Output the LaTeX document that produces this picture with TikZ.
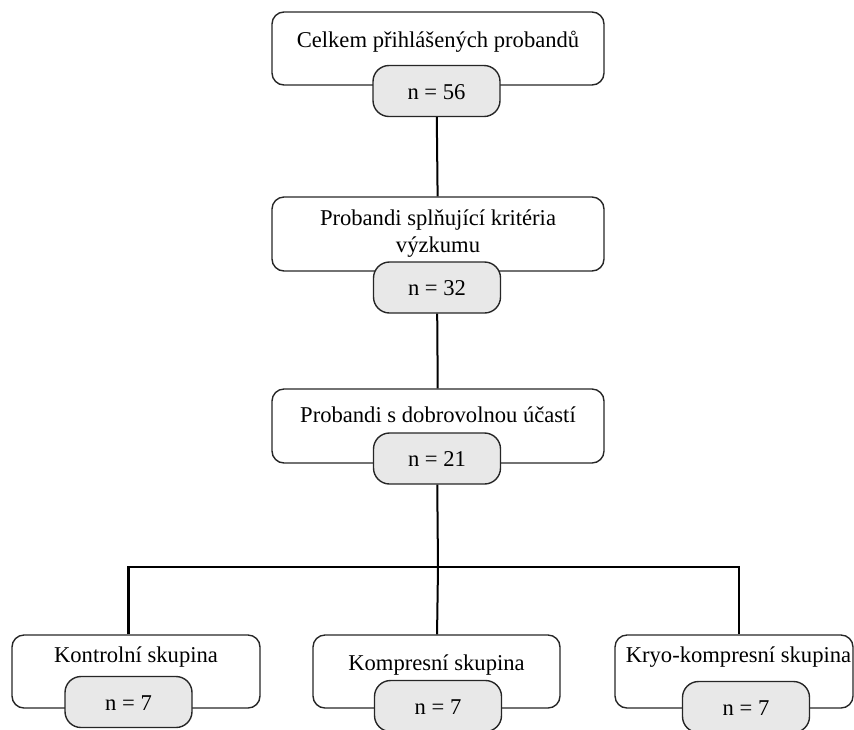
\documentclass[tikz,border=0pt]{standalone}
\usepackage{fontspec}
\setmainfont{Liberation Serif}
\usetikzlibrary{positioning, calc}

\begin{document}
\begin{tikzpicture}[x=0.5pt, y=-0.5pt,
		box/.style={draw=black!85, line width=0.7pt, rounded corners=6pt, inner sep=0pt, minimum height=36.5pt},
		count/.style={draw=black!85, fill=gray!18, line width=0.7pt, rounded corners=8pt, inner sep=0pt, minimum width=63.5pt, minimum height=25.5pt},
		txt/.style={font=\fontsize{11.3}{13.5}\selectfont, inner sep=0pt, anchor=base},
		link/.style={line width=1pt}]
		\useasboundingbox (0,0) rectangle (854,729);
		% top chain
		\node[box, minimum width=166pt] (celkem) at (438,48.5) {};
		\node[txt] (celkemT) at (438,47) {Celkem přihlášených probandů};
		\node[count] (n56) at (436.5,91) {};
		\node[txt] at (436.5,99) {n = 56};

		\node[box, minimum width=166pt, minimum height=37pt] (kriteria) at (438,234) {};
		\node[txt, align=center] (kriteriaT) at (438,252) {Probandi splňující kritéria\\výzkumu};
		\node[count] (n32) at (437,287.5) {};
		\node[txt] at (437,295) {n = 32};

		\node[box, minimum width=166pt, minimum height=37pt] (ucast) at (438,426) {};
		\node[txt] (ucastT) at (438,422) {Probandi s dobrovolnou účastí};
		\node[count] (n21) at (437,458.5) {};
		\node[txt] at (437,466) {n = 21};

		% groups
		\node[box, minimum width=124pt] (kontrol) at (136,671.5) {};
		\node[txt] at (136,662) {Kontrolní skupina};
		\node[count] (n7a) at (128.5,702) {};
		\node[txt] at (128.5,710) {n = 7};

		\node[box, minimum width=123.5pt] (kompres) at (436.5,671.5) {};
		\node[txt] at (436.5,670) {Kompresní skupina};
		\node[count] (n7b) at (438,706) {};
		\node[txt] at (438,714) {n = 7};

		\node[box, minimum width=119pt] (kryo) at (734,671.5) {};
		\node[txt] at (738.5,662) {Kryo-kompresní skupina};
		\node[count] (n7c) at (746,707) {};
		\node[txt] at (746,715) {n = 7};

		\coordinate (split) at (438,567);
		\draw[link] (n56) -- (kriteria);
		\draw[link] (n32) -- (ucast);
		\draw[link] (n21) -- (split);
		\draw[link, line width=1.3pt] (kontrol.north -| n7a) |- (split) -| (kryo.north -| 739,0);
		\draw[link] (split) -- (kompres);
\end{tikzpicture}
\end{document}
